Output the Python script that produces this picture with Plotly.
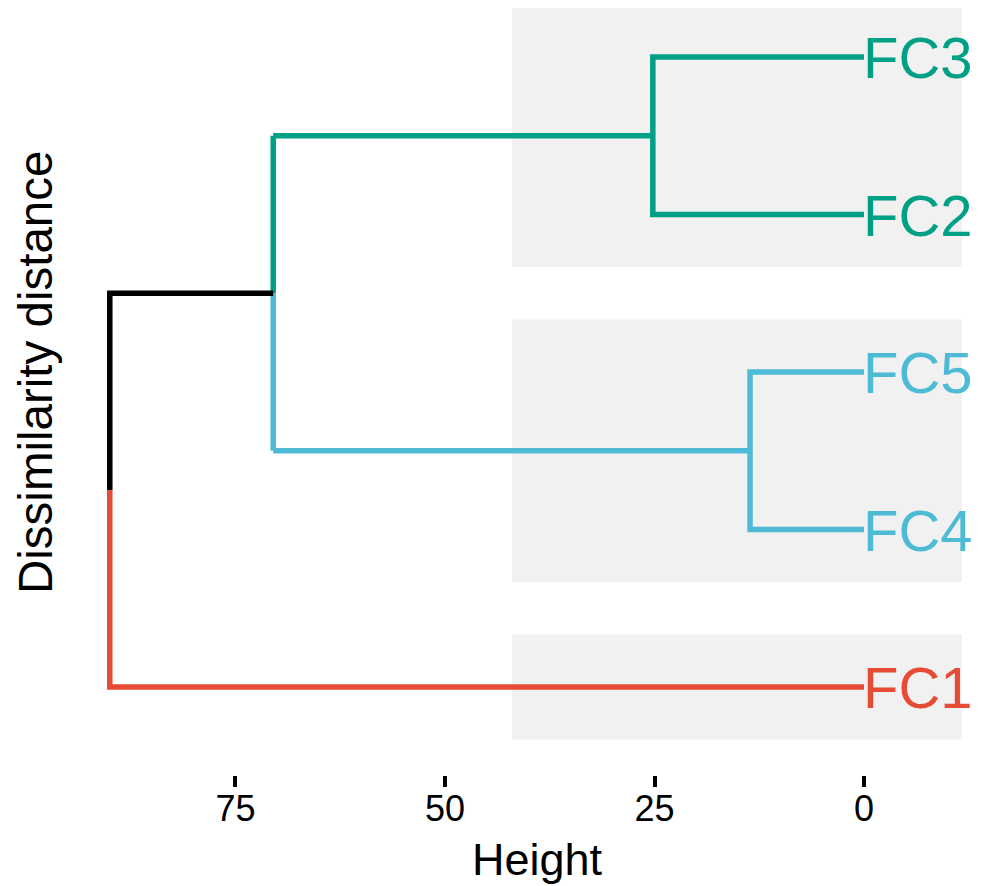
import plotly.graph_objects as go

# ---- data ----
leaf_labels = ["FC1", "FC4", "FC5", "FC2", "FC3"]      # bottom -> top order
leaf_pos = [1, 2, 3, 4, 5]
h_fc3_fc2 = 25.2      # merge height FC3 + FC2
h_fc5_fc4 = 13.6      # merge height FC5 + FC4
h_c23 = 70.5          # merge of the two clusters above
h_root = 90.0         # root merge
cluster_members = [["FC1"], ["FC4", "FC5"], ["FC2", "FC3"]]
cluster_colors = ["#E64B35", "#4DBBD5", "#00A087"]
rect_heights = [42.0, -11.7]
tick_vals = [0, 25, 50, 75]

pos = dict(zip(leaf_labels, leaf_pos))
col = {}
for members, c in zip(cluster_members, cluster_colors):
    for m in members:
        col[m] = c

FONT = "Liberation Sans, Arial, sans-serif"
W, H = 973, 878           # page body has an 8px margin
ML, MR, MT, MB = 52, 0, 0, 111
PW, PH = W - ML - MR, H - MT - MB

fig = go.Figure()

def seg(xs, ys, color):
    fig.add_trace(go.Scatter(x=xs, y=ys, mode="lines",
                             line=dict(color=color, width=5.5),
                             hoverinfo="skip", showlegend=False))

# cluster FC2/FC3 (teal)
y23 = (pos["FC2"] + pos["FC3"]) / 2
teal = col["FC3"]
seg([0, h_fc3_fc2, h_fc3_fc2, 0], [pos["FC3"], pos["FC3"], pos["FC2"], pos["FC2"]], teal)
seg([h_fc3_fc2, h_c23], [y23, y23], teal)

# cluster FC4/FC5 (blue)
y45 = (pos["FC4"] + pos["FC5"]) / 2
blue = col["FC5"]
seg([0, h_fc5_fc4, h_fc5_fc4, 0], [pos["FC5"], pos["FC5"], pos["FC4"], pos["FC4"]], blue)
seg([h_fc5_fc4, h_c23], [y45, y45], blue)

# merged node vertical: split colour at its midpoint
y_c = (y23 + y45) / 2
seg([h_c23, h_c23], [y23, y_c], teal)
seg([h_c23, h_c23], [y_c, y45], blue)

# root
y_root_mid = (y_c + pos["FC1"]) / 2
red = col["FC1"]
seg([h_c23, h_root, h_root], [y_c, y_c, y_root_mid], "black")
seg([h_root, h_root, 0], [y_root_mid, pos["FC1"], pos["FC1"]], red)

# grey rectangles behind clusters
for members in cluster_members:
    ys = [pos[m] for m in members]
    fig.add_shape(type="rect", layer="below",
                  x0=rect_heights[0], x1=rect_heights[1],
                  y0=min(ys) - 1/3, y1=max(ys) + 1/3,
                  fillcolor="#F1F1F1", line=dict(width=0))

# leaf labels
for lab in leaf_labels:
    fig.add_annotation(x=0, y=pos[lab], text=lab, showarrow=False,
                       xanchor="left", yanchor="middle", xshift=-3, yshift=-1,
                       font=dict(family=FONT, size=58, color=col[lab]))

# axis titles as annotations (placed like the reference)
fig.add_annotation(text="Height", showarrow=False,
                   xref="paper", yref="paper",
                   x=(529 - ML) / PW, y=0, xanchor="center", yanchor="middle",
                   yshift=-84, font=dict(family=FONT, size=45, color="black"))
fig.add_annotation(text="Dissimilarity distance", showarrow=False, textangle=-90,
                   xref="paper", yref="paper",
                   x=(27 - ML) / PW, y=(PH - 365) / PH, xanchor="center", yanchor="middle",
                   font=dict(family=FONT, size=47.5, color="black"))

fig.update_layout(
    width=W, height=H,
    margin=dict(l=ML, r=MR, t=MT, b=MB, autoexpand=False),
    paper_bgcolor="white", plot_bgcolor="white",
    font=dict(family=FONT, color="black"),
    xaxis=dict(range=[95.94, -13.96], tickvals=tick_vals,
               ticks="outside", ticklen=11, tickwidth=4, tickcolor="black",
               showgrid=False, zeroline=False, showline=False,
               ticklabelstandoff=-9,
               tickfont=dict(size=36, color="black")),
    yaxis=dict(range=[0.441, 5.311], showticklabels=False, ticks="",
               showgrid=False, zeroline=False, showline=False),
)

fig.write_html("out.html")
